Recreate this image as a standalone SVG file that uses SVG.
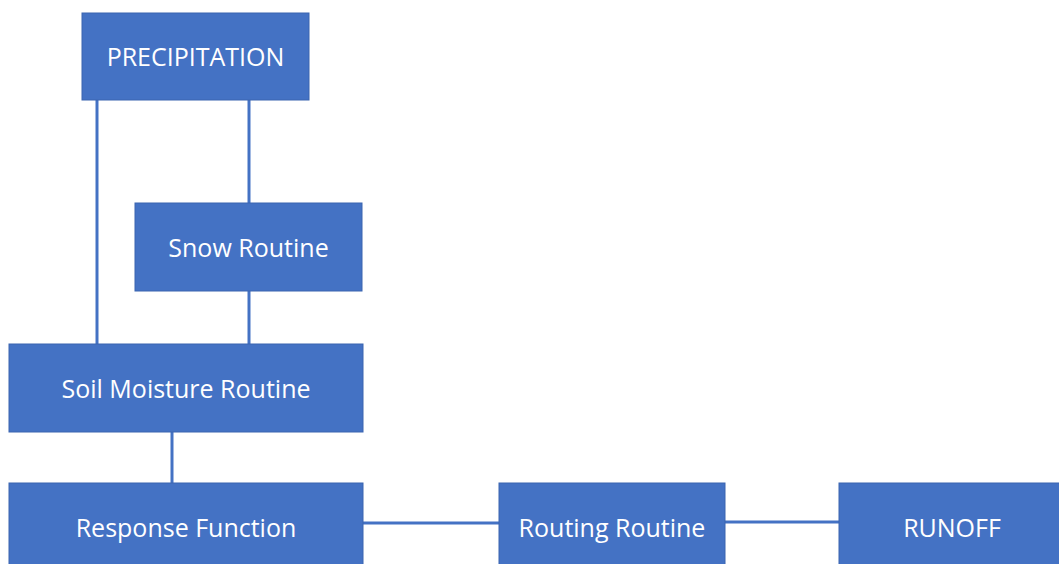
<svg xmlns="http://www.w3.org/2000/svg" width="1059" height="564" viewBox="0 0 1059 564">
<style>
.box{fill:#4472C4;stroke:#3A65B0;stroke-width:1}
.lbl{fill:#FFFFFF;font-family:"Open Sans","Noto Sans",sans-serif;font-size:25px;text-anchor:middle}
.con{stroke:#4472C4;stroke-width:3;fill:none}
</style>
<rect width="1059" height="564" fill="#FFFFFF"/>
<g id="connectors">
<line class="con" x1="97" y1="100" x2="97" y2="344"/>
<line class="con" x1="249" y1="100" x2="249" y2="203"/>
<line class="con" x1="249" y1="291" x2="249" y2="344"/>
<line class="con" x1="172" y1="432" x2="172" y2="483"/>
<line class="con" x1="363" y1="523" x2="499" y2="523"/>
<line class="con" x1="725" y1="522" x2="839" y2="522"/>
</g>
<g id="precipitation">
<rect class="box" x="82" y="13" width="227" height="87"/>
<text class="lbl" x="195.5" y="66">PRECIPITATION</text>
</g>
<g id="snow-routine">
<rect class="box" x="135" y="203" width="227" height="88"/>
<text class="lbl" x="248.5" y="257">Snow Routine</text>
</g>
<g id="soil-moisture-routine">
<rect class="box" x="9" y="344" width="354" height="88"/>
<text class="lbl" x="186" y="398">Soil Moisture Routine</text>
</g>
<g id="response-function">
<rect class="box" x="9" y="483" width="354" height="88"/>
<text class="lbl" x="186" y="537">Response Function</text>
</g>
<g id="routing-routine">
<rect class="box" x="499" y="483" width="226" height="88"/>
<text class="lbl" x="612" y="537">Routing Routine</text>
</g>
<g id="runoff">
<rect class="box" x="839" y="483" width="226" height="88"/>
<text class="lbl" x="952" y="537">RUNOFF</text>
</g>
</svg>
